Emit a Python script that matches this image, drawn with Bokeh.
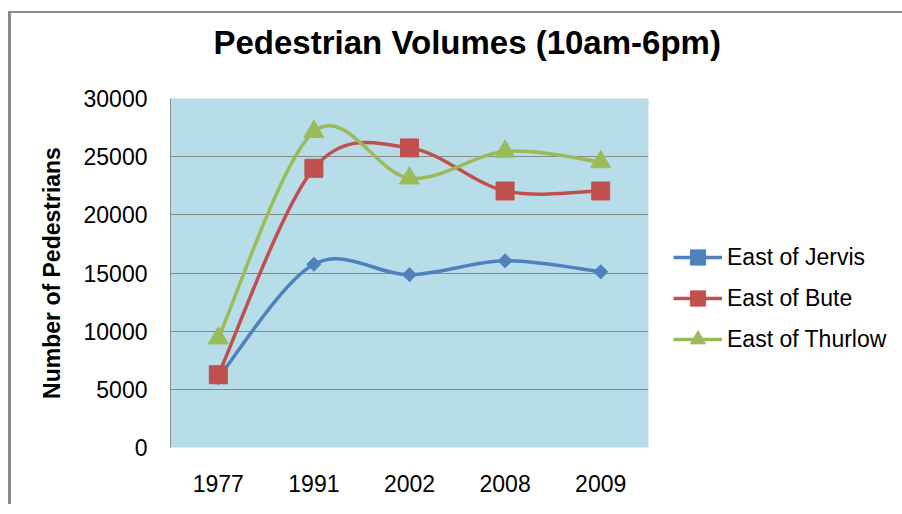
from bokeh.plotting import figure
from bokeh.models import ColumnDataSource, FixedTicker, Legend, LegendItem, Title
from bokeh.embed import file_html
from bokeh.resources import INLINE
import math

years = ["1977", "1991", "2002", "2008", "2009"]
east_of_jervis = [6000, 15750, 14850, 16050, 15100]
east_of_bute = [6250, 24000, 25750, 22050, 22050]
east_of_thurlow = [9400, 27150, 23150, 25450, 24550]
series_names = ["East of Jervis", "East of Bute", "East of Thurlow"]
y_ticks = [0, 5000, 10000, 15000, 20000, 25000, 30000]

FONT = "Liberation Sans"
FL, FT = 159, 85
FW, FH = 478, 349
RB, BB = 254, 59

p = figure(frame_width=FW, frame_height=FH, output_backend="svg", toolbar_location=None,
           x_range=(-0.5, len(years) - 0.5), y_range=(0, 30000),
           min_border_left=FL, min_border_right=RB,
           min_border_top=FT, min_border_bottom=BB,
           background_fill_color="#B7DEE8", border_fill_color="white",
           outline_line_color=None)
p.styles = {"box-shadow": "-3px -2px 0 0 #8a8a8a",
            "margin-top": "13px", "margin-left": "11px"}

p.title = None
title = Title(text="Pedestrian Volumes (10am-6pm)", text_font=FONT,
              text_font_size="33px", text_font_style="bold", text_color="black",
              align="left", offset=43, vertical_align="top", standoff=0)
spacer = Title(text=" ", text_font_size="2px", standoff=32)
p.add_layout(spacer, "above")
p.add_layout(title, "above")

# axes
p.xaxis.ticker = FixedTicker(ticks=list(range(len(years))))
p.xaxis.major_label_overrides = {i: y for i, y in enumerate(years)}
p.xaxis.axis_line_color = None
p.xaxis.major_tick_line_color = None
p.xaxis.minor_tick_line_color = None
p.xaxis.major_label_standoff = 21
p.xaxis.major_label_text_font = FONT
p.xaxis.major_label_text_font_size = "23px"
p.xaxis.major_label_text_color = "black"

p.yaxis.ticker = FixedTicker(ticks=y_ticks)
p.yaxis.axis_line_color = "#8a8a8a"
p.yaxis.major_tick_line_color = None
p.yaxis.minor_tick_line_color = None
p.yaxis.major_label_standoff = 17
p.yaxis.major_label_text_font = FONT
p.yaxis.major_label_text_font_size = "23px"
p.yaxis.major_label_text_color = "black"
p.yaxis.axis_label = "Number of Pedestrians"
p.yaxis.axis_label_text_font = FONT
p.yaxis.axis_label_text_font_size = "23px"
p.yaxis.axis_label_text_font_style = "bold"
p.yaxis.axis_label_text_color = "black"
p.yaxis.axis_label_standoff = 16

p.xgrid.grid_line_color = None
p.ygrid.grid_line_color = "#888888"
p.ygrid.grid_line_width = 1


def smooth_segments(vals):
    n = len(vals)
    d = dict(x0=[], y0=[], x1=[], y1=[], cx0=[], cy0=[], cx1=[], cy1=[])
    for i in range(n - 1):
        xp, yp = (i - 1, vals[i - 1]) if i > 0 else (i, vals[i])
        xn, yn = (i + 2, vals[i + 2]) if i + 2 < n else (i + 1, vals[i + 1])
        d["x0"].append(i)
        d["y0"].append(vals[i])
        d["x1"].append(i + 1)
        d["y1"].append(vals[i + 1])
        d["cx0"].append(i + (i + 1 - xp) / 6)
        d["cy0"].append(vals[i] + (vals[i + 1] - yp) / 6)
        d["cx1"].append(i + 1 - (xn - i) / 6)
        d["cy1"].append(vals[i + 1] - (yn - vals[i]) / 6)
    return ColumnDataSource(d)


colors = ["#4F81BD", "#C0504D", "#9BBB59"]
markers = [("square", 10, math.pi / 4), ("square", 18, 0), ("triangle", 20, 0)]
items = []
for name, vals, col, (mk, sz, ang) in zip(series_names,
                                          [east_of_jervis, east_of_bute, east_of_thurlow],
                                          colors, markers):
    src = smooth_segments(vals)
    r1 = p.bezier(x0="x0", y0="y0", x1="x1", y1="y1", cx0="cx0", cy0="cy0",
                  cx1="cx1", cy1="cy1", source=src, line_color=col, line_width=3.5)
    r2 = p.scatter(x=list(range(len(years))), y=vals, marker=mk, size=sz, angle=ang,
                   fill_color=col, line_color=col)
    items.append(LegendItem(label=name, renderers=[r1, r2]))

legend = Legend(items=items, location=(25, 89), orientation="vertical",
                label_text_font=FONT, label_text_font_size="23px",
                label_text_color="black", glyph_width=49, glyph_height=38,
                label_height=23, label_standoff=5, spacing=3, padding=0,
                margin=0, border_line_color=None, background_fill_alpha=0)
p.add_layout(legend, "right")

open("out.html", "w").write(file_html(p, INLINE))
